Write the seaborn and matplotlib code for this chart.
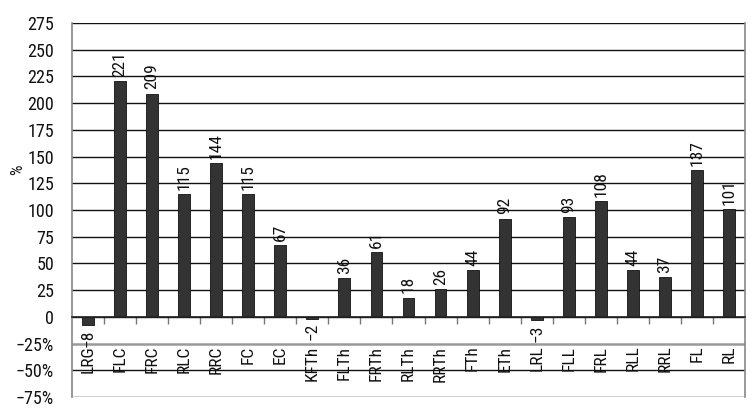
import matplotlib
matplotlib.use("Agg")
import matplotlib.pyplot as plt
import seaborn as sns
import pandas as pd
from matplotlib import font_manager

categories = ["LRG", "FLC", "FRC", "RLC", "RRC", "FC", "EC", "KFTh", "FLTh", "FRTh",
              "RLTh", "RRTh", "FTh", "ETh", "LRL", "FLL", "FRL", "RLL", "RRL", "FL", "RL"]
values = [-8, 221, 209, 115, 144, 115, 67, -2, 36, 61, 18, 26, 44, 92, -3, 93, 108, 44, 37, 137, 101]
ytick_values = list(range(-75, 276, 25))
ytick_labels = ["\u221275%", "\u221250%", "\u221225%", "0", "25", "50", "75", "100", "125",
                "150", "175", "200", "225", "250", "275"]

sns.set_theme(style="white")
names = {f.name for f in font_manager.fontManager.ttflist}
fam = [f for f in ["Liberation Sans Narrow", "Roboto Condensed", "DejaVu Sans Condensed"] if f in names]
plt.rcParams["font.family"] = fam + ["DejaVu Sans"]

df = pd.DataFrame({"cat": categories, "val": values})

fig = plt.figure(figsize=(7.56, 4.2), dpi=100)
ax = fig.add_axes([72 / 756, 1 - 397 / 420, (745 - 72) / 756, (397 - 23) / 420])

sns.barplot(data=df, x="cat", y="val", order=categories, color="#333333",
            width=0.37, edgecolor="#111111", linewidth=0.6, saturation=1, ax=ax, zorder=3)

ax.set_xlim(-0.5, len(categories) - 0.5)
ax.set_ylim(-75, 275)
ax.set_yticks(ytick_values)
ax.set_yticklabels(ytick_labels, fontsize=13, color="#111111")
ax.tick_params(axis="y", direction="out", length=10, width=1, color="#222222", pad=3)

ax.yaxis.grid(True, color="#111111", linewidth=1)
for gl, v in zip(ax.get_ygridlines(), ytick_values):
    if v == -25:
        gl.set_color("#999999")
        gl.set_linewidth(1.8)
ax.set_axisbelow(True)

ax.spines["bottom"].set_position(("data", 0))
ax.spines["bottom"].set_color("#222222")
ax.spines["bottom"].set_linewidth(1.2)
ax.spines["bottom"].set_zorder(4)
ax.set_xticks([i + 0.5 for i in range(len(categories) - 1)])
ax.set_xticklabels([])
ax.tick_params(axis="x", direction="out", length=5, width=1, color="#777777", bottom=True)
ax.spines["top"].set_visible(False)
ax.spines["left"].set_color("#888888")
ax.spines["right"].set_color("#888888")
ax.spines["left"].set_linewidth(1.2)
ax.spines["right"].set_linewidth(1.2)

ax.set_xlabel("")
ax.set_ylabel("")
fig.text(18 / 756, 1 - 170 / 420, "%", rotation=90, ha="center", va="center",
         fontsize=12, color="#111111")

for i, (c, v) in enumerate(zip(categories, values)):
    ax.text(i, -27, c, rotation=90, ha="center", va="top", fontsize=12.5, color="#111111")
    lab = str(v).replace("-", "\u2212")
    if v >= 0:
        ax.annotate(lab, (i, v), xytext=(0, 3), textcoords="offset points",
                    rotation=90, ha="center", va="bottom", fontsize=12.5, color="#111111")
    else:
        ax.annotate(lab, (i, v), xytext=(0, -3), textcoords="offset points",
                    rotation=90, ha="center", va="top", fontsize=12.5, color="#111111")

fig.savefig("out.png", dpi=100)
